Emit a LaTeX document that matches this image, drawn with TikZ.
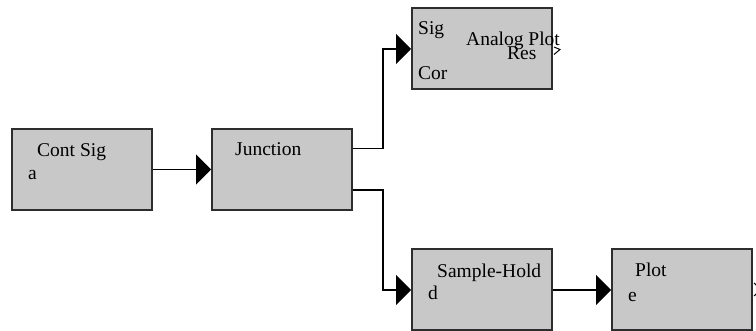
\documentclass[tikz,border=0pt]{standalone}
\usepackage{fontspec}
\setmainfont{Liberation Serif}
\usetikzlibrary{arrows.meta,calc}
\newcommand\blocklabelfont{\fontsize{19.5}{21}\selectfont}
\definecolor{blockfill}{RGB}{200,200,200}
\definecolor{blockedge}{RGB}{45,45,45}
\tikzset{
  block/.style={draw=blockedge, fill=blockfill, line width=2pt, rectangle,
    inner sep=0pt, minimum width=140pt, minimum height=81pt},
  lbl/.style={anchor=base west, inner sep=0pt, font=\blocklabelfont},
  wire/.style={line width=1.5pt, -{Triangle[length=15pt,width=30pt]}},
  port/.style={line width=1pt},
}
\begin{document}
\begin{tikzpicture}[x=1pt,y=-1pt]
  \useasboundingbox (0,0) rectangle (756,331);

  % blocks
  \node[block] (cont)   at (82,169.5) {};
  \node[block] (junc)   at (282,169.5) {};
  \node[block] (analog) at (482,49) {};
  \node[block] (sample) at (482,290) {};
  \node[block] (plot)   at (682,290) {};

  % labels inside the blocks
  \node[lbl] (tcont)  at (37,157)  {Cont Sig};
  \node[lbl] (ta)     at (28,180)  {a};
  \node[lbl] (tjunc)  at (235,156) {Junction};
  \node[lbl] (tsig)   at (418,35)  {Sig};
  \node[lbl] (tcor)   at (418,80)  {Cor};
  \node[lbl] (tana)   at (466,46)  {Analog Plot};
  \node[lbl] (tres)   at (507,60)  {Res};
  \node[lbl] (tsh)    at (437,278) {Sample-Hold};
  \node[lbl] (td)     at (428,300) {d};
  \node[lbl] (tplot)  at (635,277) {Plot};
  \node[lbl] (te)     at (628,302) {e};

  % output taps of the junction
  \coordinate (jup) at ($(junc.north east)!0.25!(junc.south east)$);
  \coordinate (jdn) at ($(junc.north east)!0.75!(junc.south east)$);

  % connectors
  \draw[wire] (cont.east) -- (junc.west);
  \draw[wire] (jup) -- ++(30,0) |- (analog.west);
  \draw[wire] (jdn) -- ++(30,0) |- (sample.west);
  \draw[wire] (sample.east) -- (plot.west);

  % output port marks
  \coordinate (pa) at ($(analog.east)+(1,-2)$);
  \draw[port] (pa) -- ++(6,2.5) -- ++(-6,5);
  \coordinate (pp) at ($(plot.east)+(1,-7)$);
  \draw[port] (pp) -- ++(7,6.5) -- ++(-7,6.5);
\end{tikzpicture}
\end{document}
